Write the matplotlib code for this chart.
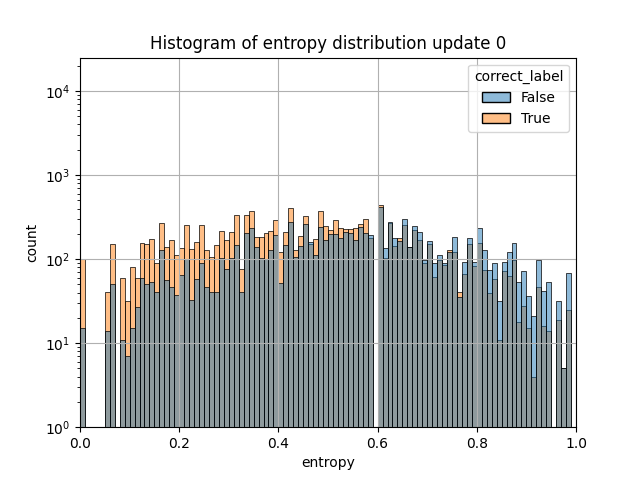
import numpy as np
import matplotlib
matplotlib.use("Agg")
import matplotlib.pyplot as plt
from matplotlib.colors import to_rgba
from matplotlib.patches import Patch

# bin edges of the entropy histogram (100 bins of 0.01)
bin_edges = np.linspace(0.0, 1.0, 101)

# counts per bin
false_counts = [
    15, 0, 0, 0, 0, 14, 51, 0, 11, 7,
    15, 27, 59, 51, 54, 41, 130, 56, 47, 37,
    65, 99, 33, 58, 90, 47, 41, 41, 104, 77,
    103, 147, 41, 204, 234, 139, 104, 99, 129, 193,
    52, 147, 278, 106, 144, 264, 158, 113, 243, 171,
    199, 199, 178, 211, 203, 171, 243, 203, 193, 0,
    412, 135, 278, 178, 165, 302, 140, 250, 213, 97,
    165, 90, 113, 91, 122, 184, 35, 92, 179, 92,
    236, 129, 74, 90, 32, 92, 121, 155, 54, 72,
    36, 21, 97, 42, 53, 0, 32, 5, 68, 0,
]
true_counts = [
    99, 0, 0, 0, 0, 41, 151, 0, 60, 32,
    81, 60, 156, 151, 175, 90, 271, 140, 167, 113,
    135, 252, 133, 159, 254, 129, 106, 147, 217, 171,
    211, 334, 76, 334, 373, 183, 183, 204, 217, 291,
    121, 211, 408, 130, 188, 325, 152, 173, 373, 247,
    221, 291, 236, 231, 226, 236, 261, 302, 176, 0,
    440, 102, 266, 143, 178, 252, 140, 221, 168, 90,
    151, 62, 97, 85, 130, 122, 41, 66, 151, 83,
    154, 74, 40, 58, 11, 72, 63, 97, 18, 28,
    15, 4, 46, 16, 14, 0, 19, 5, 25, 0,
]

labels = ["False", "True"]
colors = ["#1f77b4", "#ff7f0e"]

fig, ax = plt.subplots(figsize=(6.4, 4.8), dpi=100)

left = bin_edges[:-1]
width = np.diff(bin_edges)

# seaborn layers the last hue level first, so True goes under False
for counts, color in [(true_counts, colors[1]), (false_counts, colors[0])]:
    ax.bar(left, counts, width=width, align="edge",
           facecolor=to_rgba(color, 0.5), edgecolor="black", linewidth=0.5)

ax.set_yscale("log")
ax.set_ylim(1, 2.5e4)
ax.set_xlim(0, 1)
ax.grid(True)

ax.set_xlabel("entropy")
ax.set_ylabel("count")
ax.set_title("Histogram of entropy distribution update 0")

handles = [Patch(facecolor=to_rgba(c, 0.5), edgecolor="black") for c in colors]
ax.legend(handles, labels, title="correct_label", loc="upper right")

fig.savefig("out.png", dpi=100)
